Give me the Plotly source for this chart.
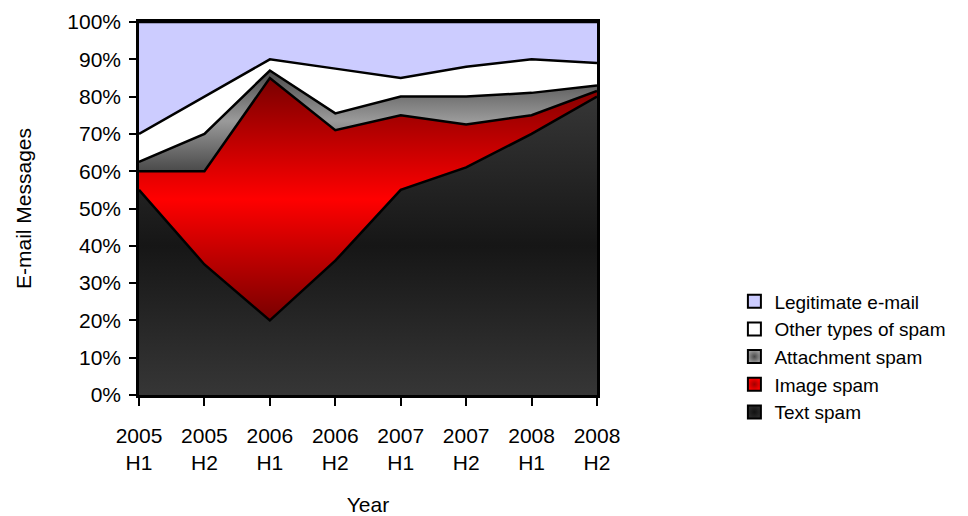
import numpy as np
import plotly.graph_objects as go

# Share of e-mail messages by half-year (percent)
periods = ["2005<br>H1", "2005<br>H2", "2006<br>H1", "2006<br>H2",
           "2007<br>H1", "2007<br>H2", "2008<br>H1", "2008<br>H2"]
text_spam = [55, 35, 20, 36, 55, 61, 70, 80]
image_spam = [5, 25, 65, 35, 20, 11.5, 5, 1.5]
attachment_spam = [2.5, 10, 2, 4.5, 5, 7.5, 6, 1.5]
other_spam = [7.5, 10, 3, 12, 5, 8, 9, 6]
legitimate = [30, 20, 10, 12.5, 15, 12, 10, 11]

series_names = ["Text spam", "Image spam", "Attachment spam",
                "Other types of spam", "Legitimate e-mail"]
series_values = [text_spam, image_spam, attachment_spam, other_spam, legitimate]

FONT = "Liberation Sans, Arial, sans-serif"

# Fill styles per layer: vertical gradient colorscale or flat colour,
# plus the legend swatch colours (centre, edge)
styles = [
    {"gradient": [[0, "#363636"], [0.5, "#161616"], [1, "#363636"]],
     "swatch": ("#2a2a2a", "#111111")},
    {"gradient": [[0, "#780000"], [0.5, "#ff0000"], [1, "#780000"]],
     "swatch": ("#ff0000", "#a00000")},
    {"gradient": [[0, "#4a4a4a"], [0.5, "#9a9a9a"], [1, "#4a4a4a"]],
     "swatch": ("#9a9a9a", "#4a4a4a")},
    {"color": "#ffffff", "swatch": ("#ffffff", "#ffffff")},
    {"color": "#ccccff", "swatch": ("#ccccff", "#ccccff")},
]

fig = go.Figure()
lower = np.zeros(len(periods))
for i, (name, vals, style) in enumerate(zip(series_names, series_values, styles)):
    upper = lower + np.array(vals, dtype=float)
    trace = dict(
        x=periods,
        y=upper,
        name=name,
        mode="lines",
        line=dict(color="black", width=2.5),
        fill="tozeroy" if i == 0 else "tonexty",
        hoverinfo="skip",
        showlegend=False,
    )
    if "gradient" in style:
        trace["fillgradient"] = dict(
            type="vertical",
            colorscale=style["gradient"],
            start=float(lower.min()),
            stop=float(upper.max()),
        )
    else:
        trace["fillcolor"] = style["color"]
    fig.add_trace(go.Scatter(**trace))
    lower = upper

# Square legend swatches
for name, style in zip(series_names, styles):
    centre, edge = style["swatch"]
    fig.add_trace(go.Scatter(
        x=[periods[0]],
        y=[None],
        name=name,
        mode="markers",
        marker=dict(symbol="square", size=13, color=centre,
                    gradient=dict(type="radial", color=edge),
                    line=dict(color="black", width=2)),
        hoverinfo="skip",
    ))

fig.update_layout(
    width=968,
    height=516,
    margin=dict(l=139, r=371, t=22, b=121, autoexpand=False),
    paper_bgcolor="white",
    plot_bgcolor="white",
    font=dict(family=FONT, size=21, color="black"),
    showlegend=True,
    legend=dict(
        traceorder="reversed",
        x=1.3,
        y=0.302,
        xanchor="left",
        yanchor="top",
        font=dict(family=FONT, size=19, color="black"),
        itemwidth=30,
        bgcolor="rgba(0,0,0,0)",
    ),
    xaxis=dict(
        type="category",
        range=[0, len(periods) - 1],
        automargin=False,
        showline=True,
        mirror=True,
        linecolor="black",
        linewidth=2.5,
        ticks="outside",
        ticklen=8,
        tickwidth=2,
        tickcolor="black",
        showgrid=False,
        zeroline=False,
        ticklabelstandoff=12,
        tickfont=dict(family=FONT, size=21),
        title=dict(text="Year", font=dict(family=FONT, size=21), standoff=26),
    ),
    yaxis=dict(
        range=[0, 100],
        automargin=False,
        tickvals=list(range(0, 101, 10)),
        ticktext=[f"{v}%" for v in range(0, 101, 10)],
        showline=True,
        mirror=True,
        linecolor="black",
        linewidth=2.5,
        ticks="outside",
        ticklen=7,
        tickwidth=2,
        tickcolor="black",
        showgrid=False,
        zeroline=False,
        ticklabelstandoff=4,
        tickfont=dict(family=FONT, size=21),
        title=dict(text="E-mail Messages", font=dict(family=FONT, size=21), standoff=30),
    ),
)

fig.write_html("out.html")
